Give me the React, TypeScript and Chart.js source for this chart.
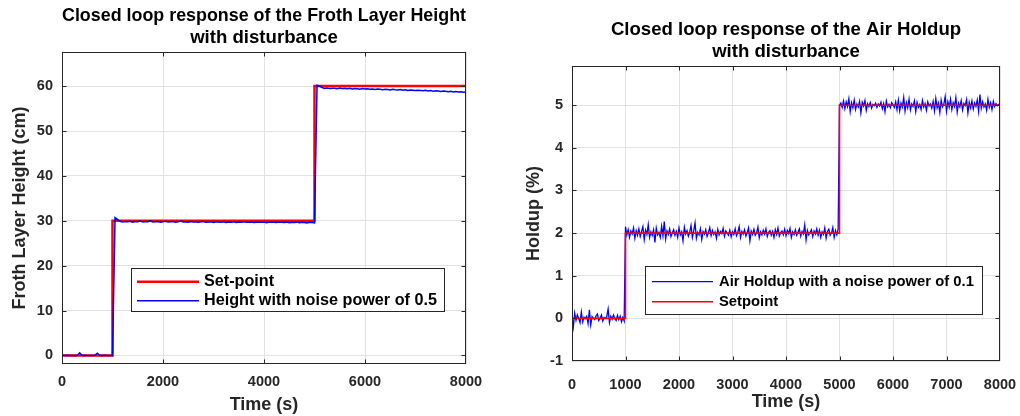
import React, { useEffect, useRef } from 'react';
import { Chart, registerables } from 'chart.js';

Chart.register(...registerables);

const FONT = '"Liberation Sans", Arial, Helvetica, sans-serif';

// ---------- Left chart: Froth layer height ----------
const heightTitle = ['Closed loop response of the Froth Layer Height', 'with disturbance'];
const heightSetTime = [0, 1000, 1000, 5000, 5000, 8000];
const heightSetValues = [0, 0, 30, 30, 60, 60];
const heightDt = 50; // sampling interval of the measured height (s)
const heightValues = [
  // 0 .. 1000
  0.1, 0, 0.05, 0, 0, 0, 0, 0.6, 0, 0.05, 0, 0, 0, 0.05, 0.5, 0, 0, 0.05, 0, 0, 0,
  // 1050, 1100
  30.7, 30.3,
  // 1150 .. 5000
  29.9, 29.75, 29.85, 29.8, 29.9, 29.7, 29.85, 29.8, 29.95, 29.75,
  29.85, 29.8, 30.0, 29.75, 29.8, 29.85, 29.7, 29.8, 29.9, 29.75,
  29.8, 29.85, 29.7, 29.8, 29.95, 29.75, 29.8, 29.7, 29.85, 29.75,
  29.8, 29.7, 29.8, 29.85, 29.7, 29.75, 29.8, 29.65, 29.8, 29.75,
  29.7, 29.8, 29.6, 29.75, 29.7, 29.8, 29.65, 29.75, 29.7, 29.8,
  29.65, 29.7, 29.75, 29.6, 29.7, 29.75, 29.65, 29.7, 29.55, 29.7,
  29.65, 29.7, 29.6, 29.75, 29.65, 29.6, 29.7, 29.55, 29.65, 29.6,
  29.7, 29.55, 29.65, 29.6, 29.5, 29.65, 29.6, 29.55,
  // 5050, 5100
  60.2, 60.0,
  // 5150 .. 8000
  59.7, 59.5, 59.6, 59.45, 59.55, 59.5, 59.4, 59.55, 59.45, 59.5,
  59.4, 59.5, 59.35, 59.45, 59.4, 59.3, 59.45, 59.35, 59.4, 59.3,
  59.35, 59.25, 59.35, 59.3, 59.2, 59.3, 59.25, 59.15, 59.3, 59.2,
  59.15, 59.25, 59.1, 59.2, 59.05, 59.15, 59.1, 59.0, 59.1, 59.05,
  58.95, 59.05, 58.9, 59.0, 58.85, 58.95, 58.9, 58.8, 58.9, 58.85,
  58.75, 58.85, 58.7, 58.8, 58.7, 58.75, 58.65, 58.7,
];
const heightXTicks = [0, 2000, 4000, 6000, 8000];
const heightYTicks = [0, 10, 20, 30, 40, 50, 60];

// ---------- Right chart: Air holdup ----------
const holdupTitle = ['Closed loop response of the Air Holdup', 'with disturbance'];
const holdupSetTime = [0, 1000, 1000, 5000, 5000, 8000];
const holdupSetValues = [0, 0, 2, 2, 5, 5];
const holdupDt = 25; // sampling interval of the measured holdup (s)
const holdupValues = [
  // 0 .. 975
  0.05, -0.2, 0.12, -0.05, 0.08, 0.0, -0.1, 0.15, -0.08, 0.03,
  0.0, 0.05, -0.12, 0.2, -0.15, 0.04, 0.0, -0.03, 0.06, 0.1,
  -0.05, 0.0, 0.08, -0.06, 0.02, 0.0, 0.04, 0.22, -0.1, 0.05,
  -0.02, 0.08, 0.0, -0.05, 0.07, -0.03, 0.05, -0.08, 0.02, -0.06,
  // 1000 .. 4975
  2.15, 1.95, 2.08, 1.9, 2.05, 1.98, 2.12, 1.88, 2.06, 1.95,
  2.1, 1.92, 2.04, 2.15, 1.85, 2.07, 1.97, 2.2, 1.9, 2.03,
  1.95, 2.08, 1.78, 2.12, 1.96, 2.02, 1.9, 2.16, 1.94, 2.27,
  1.86, 2.05, 1.97, 2.1, 1.92, 2.0, 2.08, 1.95, 2.04, 1.9,
  2.12, 1.96, 2.03, 1.82, 2.14, 1.98, 2.06, 1.93, 2.02, 2.18,
  1.9, 2.05, 2.24, 1.88, 2.02, 1.96, 2.1, 1.85, 2.04, 1.98,
  2.08, 1.92, 2.01, 2.13, 1.94, 2.06, 1.97, 2.03, 1.88, 2.09,
  1.96, 2.04, 1.99, 2.11, 1.93, 2.05, 2.0, 1.95, 2.07, 1.91,
  2.03, 1.97, 2.1, 1.94, 2.02, 2.15, 1.9, 2.04, 1.98, 2.08,
  1.93, 2.01, 2.12, 1.82, 2.05, 1.97, 2.09, 1.95, 2.0, 2.14,
  1.89, 2.03, 1.96, 2.07, 1.98, 2.1, 1.92, 2.02, 2.06, 1.95,
  2.04, 1.9, 2.08, 1.97, 2.12, 1.93, 2.01, 2.05, 1.96, 2.09,
  1.94, 2.06, 1.99, 2.11, 1.9, 2.03, 1.97, 2.08, 1.95, 2.02,
  2.1, 1.93, 2.04, 1.98, 2.19, 1.84, 2.06, 1.96, 2.02, 2.08,
  1.92, 2.05, 1.98, 2.1, 1.95, 2.07, 1.9, 2.03, 1.97, 2.12,
  1.88, 2.04, 2.09, 1.95, 2.0, 2.13, 1.9, 2.06, 1.96, 2.1,
  // 5000 .. 8000
  5.0, 5.05, 4.95, 5.1, 4.92, 5.08, 4.97, 5.15, 4.85, 5.06,
  4.94, 5.12, 4.9, 5.03, 4.96, 5.09, 4.82, 5.07, 4.98, 5.11,
  4.88, 5.04, 4.97, 5.06, 4.93, 5.02, 4.99, 5.05, 4.95, 5.03,
  4.98, 5.07, 4.92, 5.04, 4.85, 5.1, 4.96, 5.02, 4.94, 5.06,
  5.01, 4.95, 5.08, 4.9, 5.12, 4.87, 5.05, 4.96, 5.18, 4.86,
  5.06, 4.94, 5.14, 4.89, 5.03, 4.97, 5.1, 4.85, 5.07, 4.95,
  5.02, 4.9, 5.11, 4.96, 5.04, 4.88, 5.08, 4.98, 5.03, 4.93,
  5.09, 4.87, 5.16, 4.94, 5.05, 4.83, 5.12, 4.96, 5.02, 5.2,
  4.86, 5.08, 4.95, 5.14, 4.9, 5.06, 4.97, 5.18, 4.84, 5.05,
  4.96, 5.11, 4.89, 5.04, 4.99, 5.13, 4.82, 5.07, 4.94, 5.1,
  4.91, 5.05, 4.97, 5.12, 4.86, 5.25, 4.93, 5.08, 4.96, 5.03,
  4.88, 5.14, 4.95, 5.06, 4.9, 5.09, 4.97, 5.04, 4.99, 5.02,
  4.98,
];
const holdupXTicks = [0, 1000, 2000, 3000, 4000, 5000, 6000, 7000, 8000];
const holdupYTicks = [-1, 0, 1, 2, 3, 4, 5];

// ---------- plugins ----------
const framePlugin = {
  id: 'matlabFrame',
  afterDraw(chart: any) {
    const { ctx, chartArea, scales } = chart;
    const { left, right, top, bottom } = chartArea;
    const L = Math.round(left) + 0.5;
    const R = Math.round(right) - 0.5;
    const T = Math.round(top) + 0.5;
    const B = Math.round(bottom) - 0.5;
    ctx.save();
    ctx.strokeStyle = '#262626';
    ctx.lineWidth = 1;
    ctx.strokeRect(L, T, R - L, B - T);
    const tl = 4;
    ctx.beginPath();
    scales.x.ticks.forEach((t: any) => {
      const px = Math.round(scales.x.getPixelForValue(t.value)) + 0.5;
      if (px <= L + 1 || px >= R - 1) return;
      ctx.moveTo(px, B); ctx.lineTo(px, B - tl);
      ctx.moveTo(px, T); ctx.lineTo(px, T + tl);
    });
    scales.y.ticks.forEach((t: any) => {
      const py = Math.round(scales.y.getPixelForValue(t.value)) + 0.5;
      if (py <= T + 1 || py >= B - 1) return;
      ctx.moveTo(L, py); ctx.lineTo(L + tl, py);
      ctx.moveTo(R, py); ctx.lineTo(R - tl, py);
    });
    ctx.stroke();
    ctx.restore();
  },
};

const insideLegendPlugin = {
  id: 'insideLegend',
  afterDraw(chart: any, _args: any, opts: any) {
    if (!opts || !opts.box) return;
    const { ctx } = chart;
    const { x, y, w, h } = opts.box;
    ctx.save();
    ctx.fillStyle = '#ffffff';
    ctx.fillRect(x, y, w, h);
    ctx.strokeStyle = '#262626';
    ctx.lineWidth = 1;
    ctx.strokeRect(x + 0.5, y + 0.5, w, h);
    ctx.font = opts.font;
    ctx.textBaseline = 'middle';
    ctx.textAlign = 'left';
    chart.data.datasets.forEach((ds: any, i: number) => {
      const ry = y + opts.rows[i];
      ctx.strokeStyle = ds.borderColor;
      ctx.lineWidth = ds.borderWidth;
      ctx.beginPath();
      ctx.moveTo(x + opts.lineStart, ry);
      ctx.lineTo(x + opts.lineEnd, ry);
      ctx.stroke();
      ctx.fillStyle = '#000000';
      ctx.fillText(ds.label, x + opts.textStart, ry);
    });
    ctx.restore();
  },
};

function toXY(times: number[], values: number[]) {
  return values.map((v, i) => ({ x: times[i], y: v }));
}
function sampled(dt: number, values: number[]) {
  return values.map((v, i) => ({ x: i * dt, y: v }));
}

type PanelSpec = {
  title: string[];
  titlePadTop: number;
  datasets: any[];
  xMax: number;
  yMin: number;
  yMax: number;
  xTicks: number[];
  yTicks: number[];
  xLabel: string;
  yLabel: string;
  yAxisWidth: number;
  xAxisHeight: number;
  rightPad: number;
  yTitlePad: number;
  xTitlePad: number;
  xTickPad: number;
  legend: any;
};

function buildConfig(s: PanelSpec): any {
  const tickFont = { family: FONT, size: 14.5, weight: 'bold' as const };
  const labelFont = { family: FONT, size: 18, weight: 'bold' as const, lineHeight: 1.2 };
  return {
    type: 'line',
    data: { datasets: s.datasets },
    plugins: [framePlugin, insideLegendPlugin],
    options: {
      responsive: false,
      animation: false,
      events: [],
      layout: { padding: { left: 0, right: s.rightPad, top: 0, bottom: 0 } },
      elements: { point: { radius: 0 }, line: { tension: 0 } },
      plugins: {
        legend: { display: false },
        tooltip: { enabled: false },
        title: {
          display: true,
          text: s.title,
          fullSize: false,
          color: '#000000',
          font: { family: FONT, size: 18.6, weight: 'bold', lineHeight: 22 / 18.6 },
          padding: { top: s.titlePadTop, bottom: 3 },
        },
        insideLegend: s.legend,
      },
      scales: {
        x: {
          type: 'linear',
          min: 0,
          max: s.xMax,
          afterBuildTicks: (scale: any) => {
            scale.ticks = s.xTicks.map((v) => ({ value: v }));
          },
          afterFit: (scale: any) => {
            scale.height = s.xAxisHeight;
            scale.paddingLeft = 0;
            scale.paddingRight = 0;
          },
          ticks: {
            autoSkip: false,
            maxRotation: 0,
            padding: s.xTickPad,
            color: '#262626',
            font: tickFont,
            callback: (v: any) => String(v),
          },
          grid: { color: '#e2e2e2', lineWidth: 1, drawTicks: false },
          border: { display: false },
          title: {
            display: true,
            text: s.xLabel,
            color: '#262626',
            font: labelFont,
            padding: { top: 0, bottom: s.xTitlePad },
          },
        },
        y: {
          type: 'linear',
          min: s.yMin,
          max: s.yMax,
          afterBuildTicks: (scale: any) => {
            scale.ticks = s.yTicks.map((v) => ({ value: v }));
          },
          afterFit: (scale: any) => {
            scale.width = s.yAxisWidth;
            scale.paddingTop = 0;
            scale.paddingBottom = 0;
          },
          ticks: {
            autoSkip: false,
            padding: 9,
            color: '#262626',
            font: tickFont,
            callback: (v: any) => String(v),
          },
          grid: { color: '#e2e2e2', lineWidth: 1, drawTicks: false },
          border: { display: false },
          title: {
            display: true,
            text: s.yLabel,
            color: '#262626',
            font: labelFont,
            padding: { top: s.yTitlePad, bottom: 0 },
          },
        },
      },
    },
  };
}

const leftSpec: PanelSpec = {
  title: heightTitle,
  titlePadTop: 5,
  datasets: [
    {
      label: 'Set-point',
      data: toXY(heightSetTime, heightSetValues),
      borderColor: '#ff0000',
      borderWidth: 2.5,
      order: 2,
    },
    {
      label: 'Height with noise power of 0.5',
      data: sampled(heightDt, heightValues),
      borderColor: '#0000ff',
      borderWidth: 1.5,
      order: 1,
    },
  ],
  xMax: 8000,
  yMin: -1.9,
  yMax: 67.6,
  xTicks: heightXTicks,
  yTicks: heightYTicks,
  xLabel: 'Time (s)',
  yLabel: 'Froth Layer Height (cm)',
  yAxisWidth: 62,
  xAxisHeight: 52,
  rightPad: 44,
  yTitlePad: 9.2,
  xTitlePad: 0.2,
  xTickPad: 9.6,
  legend: {
    box: { x: 131, y: 268, w: 313, h: 43 },
    rows: [13.7, 32.7],
    lineStart: 6,
    lineEnd: 68,
    textStart: 73,
    font: `bold 16.2px ${FONT}`,
  },
};

const rightSpec: PanelSpec = {
  title: holdupTitle,
  titlePadTop: 19,
  datasets: [
    {
      label: 'Air Holdup with a noise power of 0.1',
      data: sampled(holdupDt, holdupValues),
      borderColor: '#0000ff',
      borderWidth: 1.3,
      order: 2,
    },
    {
      label: 'Setpoint',
      data: toXY(holdupSetTime, holdupSetValues),
      borderColor: '#ff0000',
      borderWidth: 1.6,
      order: 1,
    },
  ],
  xMax: 8000,
  yMin: -1,
  yMax: 5.92,
  xTicks: holdupXTicks,
  yTicks: holdupYTicks,
  xLabel: 'Time (s)',
  yLabel: 'Holdup (%)',
  yAxisWidth: 62,
  xAxisHeight: 55,
  rightPad: 20,
  yTitlePad: 13.2,
  xTitlePad: 3.2,
  xTickPad: 15.6,
  legend: {
    box: { x: 135, y: 266, w: 337, h: 48 },
    rows: [15.7, 35.7],
    lineStart: 7,
    lineEnd: 68,
    textStart: 74,
    font: `bold 14.8px ${FONT}`,
  },
};

function Panel({ spec, left }: { spec: PanelSpec; left: number }) {
  const ref = useRef<HTMLCanvasElement | null>(null);
  useEffect(() => {
    if (!ref.current) return;
    const chart = new Chart(ref.current, buildConfig(spec));
    return () => chart.destroy();
  }, [spec]);
  return (
    <div style={{ position: 'absolute', left, top: 0, width: 510, height: 416 }}>
      <canvas ref={ref} width={510} height={416} style={{ display: 'block' }} />
    </div>
  );
}

export default function App() {
  return (
    <div
      style={{
        position: 'absolute',
        left: 0,
        top: 0,
        width: 1020,
        height: 416,
        background: '#ffffff',
        overflow: 'hidden',
      }}
    >
      <Panel spec={leftSpec} left={0} />
      <Panel spec={rightSpec} left={510} />
    </div>
  );
}
